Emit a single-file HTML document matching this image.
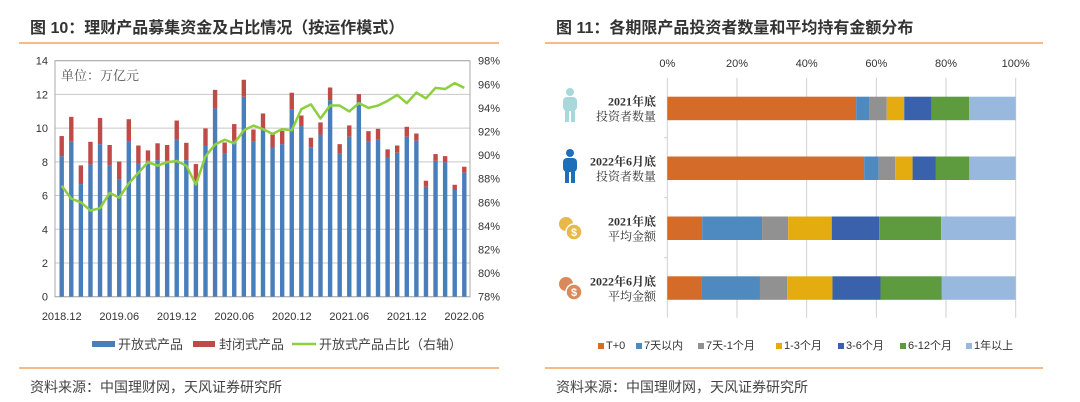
<!DOCTYPE html>
<html><head><meta charset="utf-8">
<style>
body{margin:0;width:1080px;height:402px;background:#fff;overflow:hidden;font-family:"Liberation Sans","Noto Sans CJK SC",sans-serif;}
svg{position:absolute;left:0;top:0}
</style></head>
<body>
<svg width="1080" height="402" viewBox="0 0 1080 402">
<g>
<text x="30" y="33" font-size="16" font-weight="bold" fill="#333">图 10：理财产品募集资金及占比情况（按运作模式）</text>
<line x1="19" y1="43" x2="499" y2="43" stroke="#F4A460" stroke-width="1.5"/>
<g id="leftPlot"></g>
<g>
<rect x="92" y="341" width="23" height="6" fill="#4A7EBB"/>
<text x="118" y="349" font-size="13" fill="#444">开放式产品</text>
<rect x="193" y="341" width="22" height="6" fill="#BE4B48"/>
<text x="219" y="349" font-size="13" fill="#444">封闭式产品</text>
<line x1="292" y1="344" x2="316" y2="344" stroke="#8DCF3F" stroke-width="2.5"/>
<text x="319" y="349" font-size="13" fill="#444">开放式产品占比（右轴）</text>
</g>
<line x1="19" y1="368" x2="499" y2="368" stroke="#F4A460" stroke-width="1.5"/>
<text x="30" y="392" font-size="14" fill="#444">资料来源：中国理财网，天风证券研究所</text>
</g>
<g>
<text x="556" y="33" font-size="16" font-weight="bold" fill="#333">图 11：各期限产品投资者数量和平均持有金额分布</text>
<line x1="545" y1="43" x2="1043" y2="43" stroke="#F4A460" stroke-width="1.5"/>
<g id="rightPlot"></g>
<line x1="545" y1="368" x2="1043" y2="368" stroke="#F4A460" stroke-width="1.5"/>
<text x="556" y="392" font-size="14" fill="#444">资料来源：中国理财网，天风证券研究所</text>
</g>
</svg>
<script>
const months = ["2018.12","2019.06","2019.12","2020.06","2020.12","2021.06","2021.12","2022.06"];
const totalVals = [9.53,10.67,7.79,9.19,10.6,9.0,8.02,10.53,8.97,8.68,9.1,9.0,10.45,9.13,7.87,9.98,12.27,9.15,10.24,12.87,9.92,10.87,9.62,9.84,12.1,10.75,9.43,10.34,12.41,9.05,10.16,12.02,9.82,9.96,8.74,8.97,10.08,9.68,6.88,8.46,8.34,6.64,7.71];
const openVals = [8.34,9.19,6.68,7.85,9.05,7.79,6.96,9.23,7.9,8.06,8.1,8.06,9.33,8.1,6.72,8.97,11.17,8.5,9.25,11.86,9.19,9.88,8.85,9.05,11.13,10.12,8.87,9.62,11.66,8.5,9.49,11.58,9.23,9.35,8.26,8.54,9.49,9.25,6.52,8.06,7.98,6.36,7.35];
const ratioVals = [87.4,86.3,86.0,85.3,85.5,86.8,86.4,87.6,88.5,89.4,89.1,89.4,89.5,89.1,87.5,89.9,90.9,91.3,91.0,92.1,92.5,92.2,91.8,92.2,92.1,93.9,94.3,93.1,94.2,94.2,93.7,94.4,94.0,94.2,94.6,95.1,94.4,95.3,94.8,95.7,95.6,96.1,95.7];
const leftTicks = [0,2,4,6,8,10,12,14];
const rightTicks = [78,80,82,84,86,88,90,92,94,96,98];

const rowLabels1 = ["2021年底","2022年6月底","2021年底","2022年6月底"];
const rowLabels2 = ["投资者数量","投资者数量","平均金额","平均金额"];
const segNames = ["T+0","7天以内","7天-1个月","1-3个月","3-6个月","6-12个月","1年以上"];
const row2021Count = [54.2,3.8,5.0,5.0,7.9,10.7,13.4];
const row2022Count = [56.5,4.1,4.8,5.0,6.7,9.6,13.3];
const row2021Amount = [10.0,17.2,7.5,12.5,13.6,17.8,21.4];
const row2022Amount = [9.7,16.9,7.8,13.0,13.8,17.6,21.2];
const pctTicks = [0,20,40,60,80,100];

const NS="http://www.w3.org/2000/svg";
function mk(parent,tag,attrs,text){const e=document.createElementNS(NS,tag);for(const k in attrs)e.setAttribute(k,attrs[k]);if(text!==undefined)e.textContent=text;parent.appendChild(e);return e;}

// LEFT CHART
const L=document.getElementById('leftPlot');
const px0=55,px1=470,py0=296.7,py1=60.7;
const yL=v=>py0-(v/14)*(py0-py1);
const yR=v=>py0-((v-78)/20)*(py0-py1);
const n=totalVals.length;
const xB=i=>61.7+i*(464.3-61.7)/(n-1);
let e;
for(const t of leftTicks){
  e=mk(L,'line',{x1:px0,x2:px1,y1:yL(t),y2:yL(t),stroke:'#c8c8c8','stroke-width':1});
  
  e=mk(L,'text',{x:48,y:yL(t)+4,'font-size':11,fill:'#333','text-anchor':'end'},String(t));
  
}
for(const t of rightTicks){
  e=mk(L,'text',{x:478,y:yR(t)+4,'font-size':11,fill:'#333'},t+'%');
  
}
e=mk(L,'rect',{x:px0,y:py1,width:px1-px0,height:py0-py1,fill:'none',stroke:'#aaa','stroke-width':1});

e=mk(L,'text',{x:61,y:80,'font-size':13,fill:'#555','font-family':'"Liberation Serif","Noto Serif CJK SC",serif'},'单位：万亿元');

for(let i=0;i<n;i++){
  const bw=4.4,x=xB(i)-bw/2;
  e=mk(L,'rect',{x:x,y:yL(openVals[i]),width:bw,height:py0-yL(openVals[i]),fill:'#4A7EBB'});
  
  e=mk(L,'rect',{x:x,y:yL(totalVals[i]),width:bw,height:yL(openVals[i])-yL(totalVals[i]),fill:'#BE4B48'});
  
}
e=mk(L,'polyline',{points:ratioVals.map((v,i)=>xB(i)+','+yR(v)).join(' '),fill:'none',stroke:'#8DCF3F','stroke-width':2.5,'stroke-linejoin':'round'});

months.forEach((m,k)=>{
  e=mk(L,'text',{x:xB(k*6),y:320,'font-size':11,fill:'#333','text-anchor':'middle'},m);
  
});

// RIGHT CHART
const R=document.getElementById('rightPlot');
const rx0=667.3,rx1=1015.7,gy0=77.7,gy1=317.7;
const xP=v=>rx0+(v/100)*(rx1-rx0);
const colors=['#D46B28','#4E8AC0','#919191','#E5AC10','#3A62AC','#5E9A3E','#98B8DE'];
for(const t of pctTicks){
  e=mk(R,'line',{x1:xP(t),x2:xP(t),y1:gy0,y2:gy1,stroke:'#d0d0d0','stroke-width':1});
  
  e=mk(R,'text',{x:xP(t),y:67,'font-size':11,fill:'#333','text-anchor':'middle'},t+'%');
  
}
[137.7,197.7,257.7].forEach(y=>{e=mk(R,'line',{x1:rx0-3,x2:rx0,y1:y,y2:y,stroke:'#ccc'});});
const rows=[row2021Count,row2022Count,row2021Amount,row2022Amount];
const rowTop=[96.7,156.5,216.5,276.3];
rows.forEach((vals,r)=>{
  let acc=0;
  vals.forEach((v,s)=>{
    e=mk(R,'rect',{x:xP(acc),y:rowTop[r],width:xP(acc+v)-xP(acc),height:23.5,fill:colors[s]});
    
    acc+=v;
  });
  const cy=rowTop[r]+12;
  e=mk(R,'text',{x:656,y:cy-3,'font-size':12,fill:'#333','text-anchor':'end','font-weight':'bold','font-family':'"Liberation Serif","Noto Serif CJK SC",serif'},rowLabels1[r]);
  
  e=mk(R,'text',{x:656,y:cy+12,'font-size':12,fill:'#333','text-anchor':'end','font-family':'"Liberation Serif","Noto Serif CJK SC",serif'},rowLabels2[r]);
  
});
// icons
function person(cx,cy,col){
  const g=mk(R,'g',{fill:col});
  
  mk(g,'circle',{cx:cx,cy:cy-15,r:4});
  mk(g,'rect',{x:cx-7,y:cy-10,width:14,height:14,rx:4});
  mk(g,'rect',{x:cx-5,y:cy,width:4,height:15});
  mk(g,'rect',{x:cx+1,y:cy,width:4,height:15});
}
person(570,107,'#A8D8DC');person(570,168,'#1F6FB8');
function coins(cx,cy,col){
  const g=mk(R,'g',{});
  
  mk(g,'circle',{cx:cx-4,cy:cy-4,r:7,fill:col});
  mk(g,'circle',{cx:cx+4,cy:cy+4,r:8,fill:col,stroke:'#fff','stroke-width':1.5});
  mk(g,'text',{x:cx+4,y:cy+8,'font-size':11,'font-weight':'bold',fill:'#fff','text-anchor':'middle'},'$');
}
coins(570,228,'#E8B848');coins(570,288,'#DA8A5A');
// legend
let lx=598;
const legW=[38,62,78,62,62,66,60];
segNames.forEach((s,i)=>{
  e=mk(R,'rect',{x:lx,y:343,width:6,height:6,fill:colors[i]});
  
  e=mk(R,'text',{x:lx+8,y:349,'font-size':11,fill:'#333'},s);
  
  lx+=legW[i];
});
</script>
</body></html>
